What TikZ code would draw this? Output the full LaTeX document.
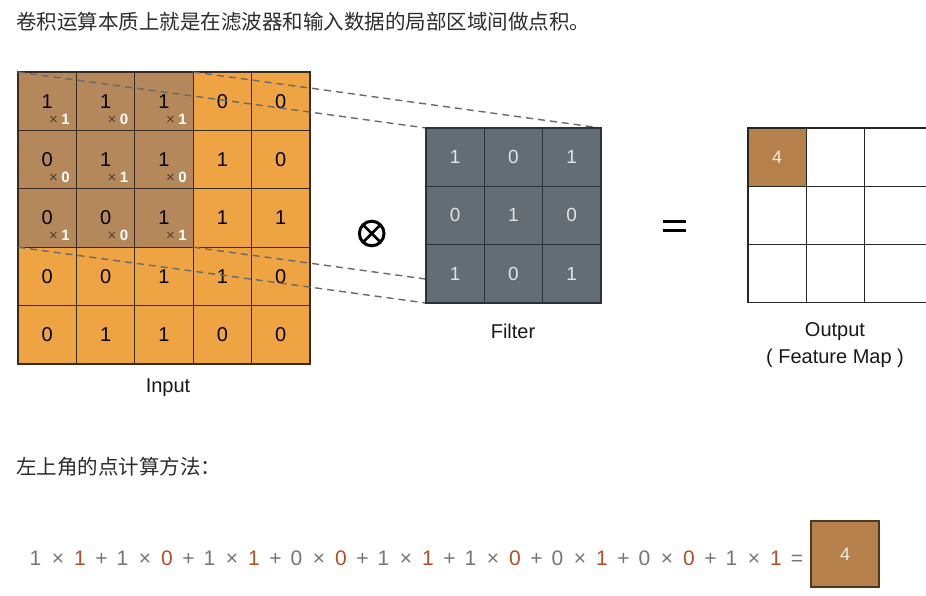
\documentclass[tikz,border=0pt]{standalone}
\usepackage{fontspec}
\setmainfont{Liberation Sans}
\newfontfamily\cjk{Noto Sans CJK SC}
\definecolor{inorange}{RGB}{239,164,67}
\definecolor{winbrown}{RGB}{180,136,90}
\definecolor{outbrown}{RGB}{182,128,76}
\definecolor{filgray}{RGB}{100,108,116}
\definecolor{gridline}{RGB}{55,42,30}
\definecolor{filline}{RGB}{45,50,56}
\definecolor{dashgray}{RGB}{105,105,105}
\definecolor{mulgray}{RGB}{75,62,50}
\definecolor{fgray}{RGB}{118,118,118}
\definecolor{fred}{RGB}{180,78,38}
\definecolor{titlegray}{RGB}{45,45,45}
\definecolor{filtext}{RGB}{228,228,228}
\definecolor{outtext}{RGB}{245,236,222}
\definecolor{resborder}{RGB}{80,55,30}
\tikzset{
  incell/.style={draw=gridline, line width=1.3pt, minimum size=58.4pt, inner sep=0pt, outer sep=0pt,
    font=\fontsize{20}{24}\selectfont, text=black},
  filcell/.style={draw=filline, line width=1.3pt, fill=filgray, minimum size=58.3pt, inner sep=0pt, outer sep=0pt,
    font=\fontsize{19}{23}\selectfont, text=filtext},
  outcell/.style={draw=black!85, line width=1.1pt, minimum width=58.3pt, minimum height=58.3pt, inner sep=0pt, outer sep=0pt,
    font=\fontsize{18}{22}\selectfont, text=outtext},
  multag/.style={inner sep=0pt, anchor=base, font=\fontsize{15}{17}\selectfont},
  dashline/.style={draw=dashgray, line width=1.4pt, dash pattern=on 7pt off 5pt},
  ftok/.style={inner sep=0pt, anchor=base, font=\fontsize{21}{25}\selectfont, text=fgray},
  lbl/.style={inner sep=0pt, font=\fontsize{20}{24}\selectfont, text=black!90},
  cjktext/.style={inner sep=0pt, anchor=west, font=\cjk\fontsize{20.5}{24}\selectfont, text=titlegray}
}
\begin{document}
\begin{tikzpicture}[x=1pt,y=-1pt]
\useasboundingbox[fill=white] (0,0) rectangle (926,595);

% title
\node[cjktext] (title) at (16,22) {卷积运算本质上就是在滤波器和输入数据的局部区域间做点积。};

% input grid
\foreach \row [count=\r from 0] in {{1,1,1,0,0},{0,1,1,1,0},{0,0,1,1,1},{0,0,1,1,0},{0,1,1,0,0}} {
  \foreach \v [count=\c from 0] in \row {
    \pgfmathtruncatemacro\inwin{(\r<3)&&(\c<3)}
    \ifnum\inwin=1 \def\fc{winbrown}\else\def\fc{inorange}\fi
    \node[incell, fill=\fc] (in-\r-\c) at ({47.2+58.4*\c},{101.2+58.4*\r}) {\v};
  }
}
% multiplier tags
\foreach \row [count=\r from 0] in {{1,0,1},{0,1,0},{1,0,1}} {
  \foreach \v [count=\c from 0] in \row {
    \node[multag] (mul-\r-\c) at ({18+58.4*\c+41.5},{72+58.4*\r+52}) {\textcolor{mulgray}{×}\hspace{3.5pt}\textcolor{white}{\bfseries\v}};
  }
}

% filter positions
\foreach \r in {0,1,2} {
  \foreach \c in {0,1,2} {
    \coordinate (fpos-\r-\c) at ({426+29.15+58.3*\c},{128+29.15+58.3*\r});
  }
}
\coordinate (ftl) at (426,128);
\coordinate (ftr) at (601,128);
\coordinate (fbl) at (426,303);
\coordinate (fbr) at (601,303);
% dashed projection lines (behind filter)
\draw[dashline] (in-0-0.north west) -- (ftl);
\draw[dashline] (in-0-2.north east) -- (ftr);
\draw[dashline] (in-2-0.south west) -- (fbl);
\draw[dashline] (in-2-2.south east) -- (fbr);
\foreach \row [count=\r from 0] in {{1,0,1},{0,1,0},{1,0,1}} {
  \foreach \v [count=\c from 0] in \row {
    \node[filcell] (fil-\r-\c) at (fpos-\r-\c) {\v};
  }
}

% otimes
\coordinate (otimes) at (371.7,233.5);
\draw[line width=3pt, black] (otimes) circle (12.3);
\draw[line width=2.6pt, black] ([shift={(-8.7,-8.7)}]otimes) -- ([shift={(8.7,8.7)}]otimes);
\draw[line width=2.6pt, black] ([shift={(-8.7,8.7)}]otimes) -- ([shift={(8.7,-8.7)}]otimes);

% equals
\coordinate (eqc) at (674,226);
\draw[line width=3.2pt, black] ([shift={(-11.5,-4.8)}]eqc) -- ([shift={(11.5,-4.8)}]eqc);
\draw[line width=3.2pt, black] ([shift={(-11.5,4.8)}]eqc) -- ([shift={(11.5,4.8)}]eqc);

% output grid (right column runs past the edge)
\foreach \r in {0,1,2} {
  \foreach \c in {0,1} {
    \node[outcell, fill=white] (out-\r-\c) at ({748+29.15+58.3*\c},{128+29.15+58.3*\r}) {};
  }
  \node[outcell, fill=white, minimum width=72pt] (out-\r-2) at ({864.6+36},{128+29.15+58.3*\r}) {};
}
\node[outcell, fill=outbrown] (out4) at (777.15,157.15) {4};

% labels
\node[lbl] (inlbl) at (168,388) {Input};
\node[lbl] (fillbl) at (513,331) {Filter};
\node[lbl] (outlbl) at (835,332) {Output};
\node[lbl] (fmlbl) at (835,358) {( Feature Map )};

% second heading
\node[cjktext] (sub) at (16,467) {左上角的点计算方法：};

% formula
\foreach \a/\b [count=\i from 0] in {1/1,1/0,1/1,0/0,1/1,1/0,0/1,0/0,1/1} {
  \pgfmathsetmacro\xx{35.5+87*\i}
  \node[ftok] (fa-\i) at (\xx,565) {\a};
  \node[ftok] (fx-\i) at (\xx+22.5,565) {×};
  \node[ftok, text=fred] (fb-\i) at (\xx+44.5,565) {\b};
  \ifnum\i<8 \node[ftok] (fp-\i) at (\xx+66,565) {+}; \fi
}
\node[ftok] (feq) at (797,565) {=};
\node[draw=resborder, line width=1.2pt, fill=outbrown, minimum width=68pt, minimum height=66pt,
  inner sep=0pt, font=\fontsize{18}{22}\selectfont, text=outtext] (res) at (845,554) {4};
\end{tikzpicture}
\end{document}
